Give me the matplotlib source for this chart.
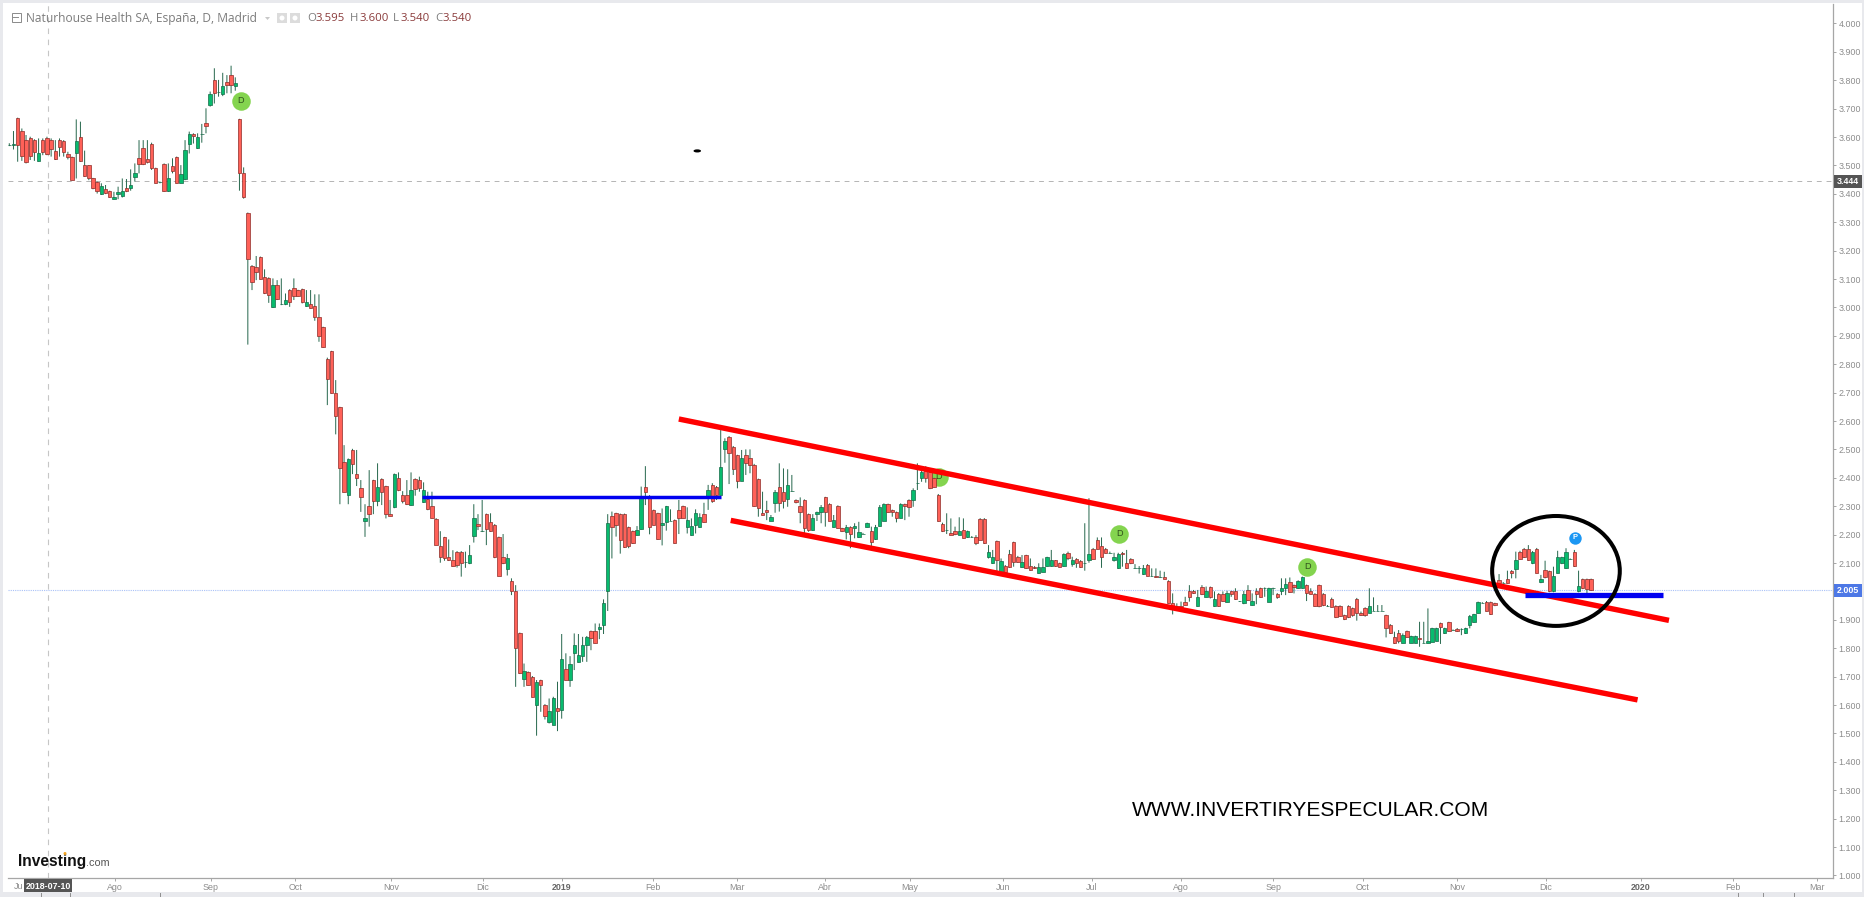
import numpy as np
import matplotlib
matplotlib.use("Agg")
import matplotlib.pyplot as plt
from matplotlib.patches import Rectangle, Ellipse, Polygon
from matplotlib.lines import Line2D

W, H = 1865, 897

# ---- Daily OHLC values, section by section ----
# Jul 2018 - Sep 2018
opens_a = [3.572,3.572,3.666,3.621,3.589,3.595,3.589,3.514,3.589,3.597,
3.589,3.549,3.589,3.585,3.540,3.528,3.545,3.599,3.500,3.500,
3.454,3.440,3.398,3.416,3.409,3.380,3.399,3.393,3.419,3.419,
3.460,3.525,3.560,3.521,3.577,3.490,3.440,3.505,3.410,3.499,
3.528,3.439,3.453,3.577,3.610,3.560,3.609,3.650,3.713,3.801,
3.760,3.750,3.795,3.819,3.778,3.662,3.474]
highs_a = [3.578,3.621,3.668,3.630,3.607,3.601,3.592,3.595,3.595,3.601,
3.595,3.589,3.595,3.589,3.548,3.531,3.662,3.654,3.552,3.501,
3.456,3.443,3.437,3.431,3.411,3.407,3.425,3.454,3.452,3.486,
3.507,3.589,3.589,3.589,3.580,3.492,3.443,3.507,3.507,3.525,
3.531,3.501,3.589,3.619,3.613,3.613,3.646,3.701,3.760,3.842,
3.801,3.826,3.818,3.851,3.810,3.664,3.493]
lows_a = [3.568,3.556,3.513,3.516,3.507,3.519,3.516,3.514,3.536,3.536,
3.531,3.519,3.531,3.531,3.521,3.448,3.454,3.513,3.460,3.448,
3.416,3.401,3.396,3.399,3.386,3.380,3.381,3.387,3.406,3.411,
3.443,3.472,3.501,3.507,3.484,3.437,3.437,3.407,3.407,3.472,
3.437,3.437,3.448,3.542,3.577,3.558,3.580,3.613,3.707,3.718,
3.742,3.744,3.754,3.754,3.763,3.411,3.383]
closes_a = [3.573,3.574,3.573,3.534,3.511,3.534,3.548,3.545,3.548,3.539,
3.559,3.521,3.565,3.548,3.528,3.450,3.585,3.514,3.464,3.454,
3.419,3.410,3.426,3.404,3.389,3.389,3.405,3.409,3.409,3.430,
3.472,3.505,3.505,3.511,3.490,3.439,3.440,3.410,3.454,3.482,
3.439,3.471,3.555,3.609,3.605,3.601,3.609,3.640,3.750,3.756,
3.760,3.779,3.784,3.784,3.789,3.474,3.387]

# Sep 2018 - Dic 2018
opens_b = [3.331,3.146,3.141,3.176,3.106,3.102,3.000,3.080,3.011,3.011,
3.061,3.069,3.060,3.064,3.005,3.011,3.006,2.965,2.930,2.820,
2.845,2.700,2.648,2.457,2.339,2.498,2.412,2.363,2.249,2.299,
2.391,2.320,2.395,2.370,2.272,2.296,2.401,2.340,2.340,2.305,
2.395,2.391,2.316,2.324,2.300,2.256,2.161,2.190,2.120,2.109,
2.140,2.140,2.102,2.100,2.194,2.236]
highs_b = [3.334,3.149,3.181,3.179,3.134,3.106,3.102,3.096,3.102,3.049,
3.064,3.102,3.062,3.066,3.061,3.061,3.046,3.046,2.932,2.823,
2.847,2.744,2.650,2.515,2.468,2.502,2.498,2.392,2.307,2.427,
2.393,2.451,2.398,2.372,2.322,2.415,2.419,2.353,2.392,2.419,
2.398,2.404,2.384,2.351,2.351,2.258,2.212,2.192,2.183,2.145,
2.142,2.142,2.140,2.163,2.307,2.272]
lows_b = [2.869,3.061,3.096,3.099,3.047,3.016,2.998,3.026,3.008,3.008,
3.002,3.026,3.038,3.014,3.002,2.997,2.953,2.879,2.858,2.656,
2.697,2.553,2.307,2.349,2.307,2.413,2.371,2.280,2.192,2.228,
2.272,2.300,2.304,2.257,2.265,2.293,2.353,2.310,2.304,2.302,
2.337,2.351,2.312,2.286,2.257,2.163,2.101,2.108,2.107,2.087,
2.084,2.052,2.083,2.096,2.172,2.216]
closes_b = [3.169,3.091,3.123,3.100,3.049,3.045,3.080,3.028,3.011,3.025,
3.018,3.040,3.040,3.018,3.018,2.999,2.965,2.900,2.859,2.749,
2.700,2.619,2.435,2.351,2.465,2.450,2.401,2.333,2.257,2.273,
2.320,2.366,2.351,2.271,2.266,2.412,2.356,2.317,2.306,2.356,
2.361,2.365,2.356,2.290,2.260,2.165,2.120,2.117,2.109,2.089,
2.094,2.100,2.102,2.127,2.260,2.229]

# Dic 2018 - Feb 2019
opens_c = [2.211,2.271,2.245,2.235,2.190,2.121,2.080,2.035,2.000,1.852,
1.693,1.716,1.700,1.601,1.687,1.601,1.539,1.530,1.588,1.582,
1.728,1.689,1.784,1.752,1.773,1.812,1.859,1.859,1.869,1.880,
2.000,2.267,2.275,2.271,2.271,2.226,2.211,2.200,2.221,2.369,
2.328,2.285,2.275,2.234,2.245,2.249,2.250,2.285,2.299,2.228,
2.200,2.235,2.227,2.271,2.329,2.373,2.369,2.340]
highs_c = [2.322,2.274,2.275,2.237,2.193,2.202,2.132,2.046,2.022,1.855,
1.746,1.718,1.702,1.688,1.689,1.603,1.623,1.629,1.682,1.850,
1.782,1.772,1.852,1.850,1.840,1.843,1.862,1.887,1.887,1.972,
2.272,2.281,2.277,2.274,2.274,2.228,2.214,2.230,2.369,2.441,
2.339,2.288,2.277,2.292,2.301,2.289,2.253,2.322,2.302,2.296,
2.257,2.289,2.275,2.312,2.375,2.381,2.371,2.568]
lows_c = [2.209,2.163,2.210,2.117,2.054,2.096,2.056,1.987,1.664,1.709,
1.664,1.669,1.627,1.492,1.576,1.549,1.535,1.530,1.508,1.552,
1.687,1.664,1.723,1.750,1.752,1.752,1.793,1.817,1.832,1.850,
1.931,2.116,2.193,2.133,2.153,2.152,2.167,2.197,2.218,2.304,
2.201,2.233,2.181,2.162,2.214,2.248,2.169,2.202,2.257,2.204,
2.197,2.204,2.224,2.242,2.287,2.312,2.322,2.339]
closes_c = [2.211,2.221,2.214,2.120,2.055,2.099,2.116,2.000,1.800,1.711,
1.718,1.671,1.629,1.680,1.671,1.562,1.580,1.623,1.580,1.761,
1.689,1.746,1.812,1.775,1.812,1.838,1.835,1.819,1.876,1.960,
2.240,2.226,2.235,2.182,2.155,2.161,2.170,2.216,2.328,2.351,
2.227,2.235,2.183,2.240,2.299,2.249,2.170,2.260,2.260,2.250,
2.229,2.275,2.261,2.245,2.356,2.317,2.341,2.437]

# Feb 2019 - Ago 2019
opens_d = [2.500,2.545,2.510,2.479,2.390,2.479,2.468,2.446,2.395,2.275,
2.285,2.249,2.310,2.366,2.351,2.324,2.352,2.322,2.301,2.322,
2.271,2.215,2.272,2.279,2.331,2.308,2.228,2.301,2.222,2.209,
2.227,2.222,2.190,2.203,2.228,2.211,2.183,2.229,2.249,2.306,
2.285,2.278,2.259,2.306,2.322,2.323,2.380,2.400,2.439,2.421,
2.398,2.340,2.239,2.215,2.204,2.211,2.200,2.215,2.190,2.191,
2.190,2.256,2.256,2.120,2.100,2.176,2.070,2.089,2.130,2.173,
2.120,2.086,2.127,2.088,2.087,2.066,2.070,2.088,2.089,2.109,
2.099,2.090,2.136,2.095,2.115,2.107,2.099,2.110,2.150,2.182,
2.161,2.150,2.136,2.109,2.081,2.136,2.099,2.115,2.081,2.081,
2.060,2.094]
highs_d = [2.539,2.547,2.512,2.481,2.498,2.500,2.500,2.449,2.397,2.351,
2.319,2.269,2.357,2.451,2.433,2.430,2.410,2.324,2.331,2.324,
2.274,2.272,2.281,2.304,2.333,2.310,2.269,2.303,2.224,2.234,
2.229,2.240,2.245,2.206,2.242,2.228,2.234,2.304,2.310,2.309,
2.288,2.281,2.310,2.309,2.324,2.363,2.451,2.428,2.441,2.424,
2.400,2.343,2.242,2.275,2.257,2.228,2.261,2.257,2.214,2.195,
2.198,2.258,2.258,2.163,2.146,2.179,2.116,2.093,2.146,2.175,
2.125,2.128,2.129,2.116,2.089,2.099,2.116,2.122,2.146,2.110,
2.101,2.134,2.140,2.122,2.117,2.110,2.240,2.328,2.153,2.190,
2.190,2.153,2.140,2.136,2.136,2.139,2.146,2.117,2.096,2.089,
2.093,2.096]
lows_d = [2.453,2.378,2.410,2.363,2.389,2.410,2.416,2.298,2.263,2.268,
2.251,2.248,2.277,2.281,2.292,2.298,2.351,2.310,2.240,2.204,
2.210,2.214,2.248,2.240,2.228,2.248,2.225,2.221,2.209,2.183,
2.152,2.187,2.188,2.201,2.225,2.160,2.181,2.228,2.248,2.277,
2.263,2.243,2.258,2.251,2.263,2.298,2.357,2.386,2.383,2.360,
2.366,2.246,2.209,2.202,2.198,2.198,2.198,2.187,2.188,2.189,
2.163,2.181,2.167,2.116,2.097,2.069,2.068,2.068,2.083,2.087,
2.101,2.083,2.079,2.073,2.079,2.063,2.068,2.087,2.087,2.087,
2.085,2.087,2.110,2.087,2.083,2.083,2.073,2.101,2.113,2.148,
2.083,2.134,2.133,2.105,2.079,2.087,2.080,2.096,2.080,2.063,
2.058,2.054]
closes_d = [2.531,2.486,2.430,2.390,2.471,2.451,2.446,2.301,2.295,2.270,
2.278,2.261,2.351,2.310,2.319,2.375,2.352,2.316,2.278,2.222,
2.215,2.257,2.279,2.296,2.279,2.249,2.250,2.222,2.211,2.227,
2.203,2.230,2.210,2.203,2.240,2.175,2.228,2.296,2.308,2.278,
2.278,2.259,2.306,2.301,2.298,2.357,2.380,2.419,2.400,2.363,
2.369,2.249,2.211,2.215,2.200,2.201,2.211,2.189,2.211,2.191,
2.171,2.182,2.169,2.137,2.120,2.110,2.106,2.070,2.086,2.105,
2.105,2.105,2.081,2.076,2.081,2.087,2.087,2.120,2.109,2.089,
2.087,2.130,2.116,2.109,2.100,2.086,2.099,2.130,2.115,2.150,
2.121,2.136,2.136,2.120,2.130,2.130,2.081,2.100,2.081,2.081,
2.081,2.055]

# Ago 2019 - Dic 2019
opens_e = [2.054,2.055,2.049,2.049,2.037,1.959,1.947,1.950,1.961,2.000,
2.000,1.948,2.015,1.981,2.014,1.947,1.992,1.992,1.963,2.000,
2.000,1.965,1.960,2.005,1.952,2.000,2.011,2.011,1.964,2.011,
1.992,2.000,2.011,2.032,2.021,2.011,2.011,2.021,2.000,1.992,
2.021,1.992,1.948,1.975,1.948,1.948,1.916,1.948,1.940,1.974,
1.925,1.941,1.925,1.932,1.932,1.932,1.916,1.883,1.838,1.852,
1.819,1.859,1.819,1.819,1.835,1.819,1.819,1.823,1.825,1.887,
1.852,1.891,1.864,1.869,1.867,1.852,1.880,1.891,1.923,1.960,
1.964,1.961,1.958,2.040,2.031,2.042,2.071,2.080,2.140,2.150,
2.150,2.099,2.150,2.032,2.076,2.071,2.000,2.066,2.099,2.081,
2.114,2.140,2.000,2.042,2.042,2.042]
highs_e = [2.081,2.081,2.073,2.069,2.039,1.993,1.958,1.964,1.981,2.022,
2.005,2.005,2.022,2.017,2.017,2.000,1.994,2.000,2.002,2.002,
2.011,1.966,2.002,2.022,1.993,2.011,2.013,2.014,2.013,2.013,
1.994,2.046,2.046,2.049,2.024,2.039,2.052,2.024,2.011,1.994,
2.024,1.994,1.952,1.978,1.951,1.951,1.918,1.951,1.943,1.977,
1.929,1.944,2.011,1.979,1.952,1.952,1.918,1.885,1.858,1.864,
1.852,1.862,1.844,1.844,1.893,1.893,1.940,1.872,1.872,1.890,
1.872,1.893,1.866,1.871,1.870,1.872,1.917,1.921,1.964,1.962,
1.966,1.964,1.960,2.061,2.033,2.073,2.075,2.140,2.143,2.153,
2.163,2.142,2.153,2.058,2.108,2.073,2.087,2.143,2.122,2.152,
2.116,2.146,2.073,2.045,2.045,2.045]
lows_e = [2.052,2.048,2.047,2.044,1.958,1.919,1.944,1.943,1.951,1.964,
1.991,1.947,1.987,1.979,1.975,1.946,1.946,1.964,1.961,1.981,
1.970,1.964,1.955,1.967,1.950,1.955,1.979,1.981,1.963,1.987,
1.974,1.987,1.987,1.995,1.993,2.010,2.010,1.966,1.990,1.946,
1.944,1.948,1.946,1.944,1.906,1.911,1.899,1.906,1.911,1.897,
1.914,1.911,1.923,1.931,1.930,1.931,1.838,1.850,1.815,1.817,
1.817,1.838,1.818,1.818,1.805,1.817,1.817,1.822,1.824,1.815,
1.850,1.858,1.862,1.857,1.846,1.850,1.870,1.890,1.922,1.958,
1.930,1.917,1.948,2.028,2.028,2.028,2.046,2.046,2.113,2.118,
2.108,2.096,2.064,2.029,2.046,1.997,1.997,2.064,2.096,2.079,
2.112,2.086,1.997,2.008,1.993,2.002]
closes_e = [2.054,2.049,2.049,2.045,1.960,1.949,1.947,1.946,1.953,1.981,
1.993,1.979,1.992,2.001,1.981,1.972,1.948,1.967,1.994,1.992,
1.972,1.965,1.992,1.970,1.965,1.992,1.981,2.011,2.011,2.011,
1.981,2.011,2.026,1.999,2.014,2.037,2.049,1.993,1.992,1.950,
1.950,1.951,1.948,1.946,1.909,1.913,1.902,1.909,1.917,1.925,
1.918,1.917,1.950,1.932,1.932,1.932,1.870,1.852,1.819,1.826,
1.846,1.840,1.842,1.842,1.831,1.819,1.827,1.870,1.870,1.876,
1.870,1.859,1.864,1.859,1.867,1.870,1.914,1.919,1.961,1.960,
1.932,1.919,1.951,2.031,2.031,2.031,2.066,2.110,2.115,2.120,
2.110,2.140,2.066,2.042,2.049,2.000,2.055,2.120,2.120,2.140,
2.114,2.088,2.020,2.011,2.009,2.005]

# Axis labels and levels
price_ticks = [1.0,1.1,1.2,1.3,1.4,1.5,1.6,1.7,1.8,1.9,2.0,2.1,2.2,2.3,2.4,2.5,2.6,2.7,2.8,2.9,
               3.0,3.1,3.2,3.3,3.4,3.5,3.6,3.7,3.8,3.9,4.0]
month_labels = ["Ago","Sep","Oct","Nov","Dic","2019","Feb","Mar","Abr","May","Jun","Jul",
                "Ago","Sep","Oct","Nov","Dic","2020","Feb","Mar"]
month_bars = [25.3,48.2,68.3,91.2,113.2,132,153.8,173.9,194.9,215.2,237.4,258.7,
              280,302,323.5,346,367.2,389.9,412,432]
last_price = 2.005
crosshair_price = 3.444
crosshair_bar = 9.3
crosshair_date = "2018-07-10"

# Drawing annotations (bar, price)
channel_upper_bar = [160.0, 396.6]; channel_upper_price = [2.607, 1.898]
channel_lower_bar = [172.4, 389.1]; channel_lower_price = [2.250, 1.618]
support_a_bar = [98.7, 170.0]; support_a_price = [2.333, 2.333]
support_b_bar = [362.2, 395.1]; support_b_price = [1.989, 1.989]
event_bars = [55.3, 222.1, 265.2, 310.2]
event_prices = [3.727, 2.404, 2.203, 2.087]
pivot_bar = [374.1]; pivot_price = [2.189]

opens = np.array(opens_a + opens_b + opens_c + opens_d + opens_e)
highs = np.array(highs_a + highs_b + highs_c + highs_d + highs_e)
lows = np.array(lows_a + lows_b + lows_c + lows_d + lows_e)
closes = np.array(closes_a + closes_b + closes_c + closes_d + closes_e)
bars = np.arange(len(opens))

FONT = "Liberation Sans"
GREY = "#8c8c8c"

fig = plt.figure(figsize=(W / 100, H / 100), dpi=100, facecolor="#e8e9ed")


def fx(x):
    return x / W


def fy(y):
    return 1 - y / H


def frect(x0, y0, x1, y1, **kw):
    p = Rectangle((fx(x0), fy(y1)), (x1 - x0) / W, (y1 - y0) / H, transform=fig.transFigure, **kw)
    fig.add_artist(p)
    return p


frect(3, 3, 1862, 892, facecolor="white", edgecolor="none", zorder=-5)

ax = fig.add_axes([fx(8), fy(878), (1833 - 8) / W, (878 - 4) / H], facecolor="white")
ax.set_xlim(-0.31, 435.8)
ax.set_ylim(4 - (878 - 23.4) / 284, 4 + (23.4 - 4) / 284)

for s in ("left", "top"):
    ax.spines[s].set_visible(False)
for s in ("right", "bottom"):
    ax.spines[s].set_color("#a6a6a6")
    ax.spines[s].set_linewidth(0.9)

ax.yaxis.tick_right()
ax.set_yticks(price_ticks)
ax.set_yticklabels([f"{v:.3f}" for v in price_ticks], fontname=FONT, fontsize=6.4, color=GREY)
ax.set_xticks(month_bars)
ax.set_xticklabels(month_labels, fontname=FONT, fontsize=6.4, color=GREY)
for lab, txt in zip(ax.get_xticklabels(), month_labels):
    if txt in ("2019", "2020"):
        lab.set_fontweight("bold")
        lab.set_color("#666666")
ax.tick_params(axis="y", length=2.2, width=0.7, color="#a6a6a6", pad=1.6)
ax.tick_params(axis="x", length=2.2, width=0.7, color="#a6a6a6", pad=1.4)

# Reference lines
ax.axhline(crosshair_price, color="#b4b4b4", lw=0.7, ls=(0, (5, 5)), zorder=1)
ax.axvline(crosshair_bar, color="#c6c6c6", lw=0.8, ls=(0, (5, 5)), zorder=1)
ax.axhline(last_price, color="#a9c1f7", lw=0.8, ls=(0, (1, 1)), zorder=1)

# Event markers sit beneath the candles and channel lines
ax.scatter(event_bars, event_prices, s=178, color="#84d44f", zorder=2, linewidths=0)
for b, p in zip(event_bars, event_prices):
    ax.text(b, p, "D", ha="center", va="center", fontname=FONT, fontsize=6.6, color="#2f4f1c", zorder=2.1)
ax.scatter(pivot_bar, pivot_price, s=80, color="#1c97f3", zorder=2, linewidths=0)
ax.text(pivot_bar[0], pivot_price[0], "P", ha="center", va="center", fontname=FONT, fontsize=5.4,
        fontweight="bold", color="white", zorder=2.1)

# Candles
wicks = ax.vlines(bars, lows, highs, color="#2a6a50", lw=0.72, zorder=3)
wicks.set_snap(False)
up = closes >= opens
ax.bar(bars[up], (closes - opens)[up], bottom=opens[up], width=0.82, color="#08bb6e",
       edgecolor="#136a47", linewidth=0.5, zorder=4)
ax.bar(bars[~up], (closes - opens)[~up], bottom=opens[~up], width=0.82, color="#ff6158",
       edgecolor="#8e2b27", linewidth=0.5, zorder=4)

# Hand-drawn annotations
ax.plot(channel_upper_bar, channel_upper_price, color="#ff0000", lw=3.9, solid_capstyle="butt", zorder=6)
ax.plot(channel_lower_bar, channel_lower_price, color="#ff0000", lw=3.9, solid_capstyle="butt", zorder=6)
ax.plot(support_a_bar, support_a_price, color="#0000f0", lw=2.5, solid_capstyle="butt", zorder=6)
ax.plot(support_b_bar, support_b_price, color="#0000f0", lw=3.8, solid_capstyle="butt", zorder=6)
ax.add_patch(Ellipse((369.6, 2.072), 30.5, 0.387, fill=False, edgecolor="black", lw=2.9, zorder=7))
ax.add_patch(Ellipse((164.4, 3.551), 1.8, 0.011, facecolor="black", edgecolor="none", zorder=7))

# Price and date flags
frect(1834, 175, 1862, 188, facecolor="#555555", edgecolor="none", zorder=8)
fig.text(fx(1848), fy(181.6), f"{crosshair_price:.3f}", ha="center", va="center", fontname=FONT,
         fontsize=6.4, fontweight="bold", color="white", zorder=9)
frect(1834, 584, 1862, 597, facecolor="#4d78e6", edgecolor="none", zorder=8)
fig.text(fx(1848), fy(590.8), f"{last_price:.3f}", ha="center", va="center", fontname=FONT,
         fontsize=6.4, fontweight="bold", color="white", zorder=9)
frect(24, 879, 72, 892, facecolor="#555555", edgecolor="none", zorder=8)
fig.text(fx(48), fy(886), crosshair_date, ha="center", va="center", fontname=FONT,
         fontsize=6.4, fontweight="bold", color="white", zorder=9)
# The first month label is cut off by the date flag, as in the reference
fig.text(fx(23.5), fy(886), "Ju", ha="right", va="center", fontname=FONT, fontsize=6.4, color=GREY, zorder=7)

# Header
frect(11.5, 13, 20.5, 22, facecolor="white", edgecolor="#8a8a8a", lw=0.7, zorder=8)
fig.add_artist(Line2D([fx(13.5), fx(18.5)], [fy(17.5), fy(17.5)], color="#8a8a8a", lw=0.7,
                      transform=fig.transFigure, zorder=9))
fig.text(fx(26), fy(18.5), "Naturhouse Health SA, España, D, Madrid", ha="left", va="center",
         fontname="Open Sans", fontsize=8.65, color="#7c7c7c", zorder=9)
fig.add_artist(Polygon([(fx(265), fy(17)), (fx(270), fy(17)), (fx(267.5), fy(20))], closed=True,
                       facecolor="#c8c8c8", edgecolor="none", transform=fig.transFigure, zorder=9))
frect(277, 13, 287, 23, facecolor="#dcdcdc", edgecolor="none", zorder=8)
frect(290, 13, 300, 23, facecolor="#dcdcdc", edgecolor="none", zorder=8)
for cx in (282, 295):
    fig.add_artist(Ellipse((fx(cx), fy(18)), 5 / W, 5 / H, facecolor="white", edgecolor="none",
                           transform=fig.transFigure, zorder=9))
ohlc_labels = ["O", "H", "L", "C"]
ohlc_values = ["3.595", "3.600", "3.540", "3.540"]
for lab, val, xl, xv in zip(ohlc_labels, ohlc_values, [307, 350, 393, 435], [316, 359, 401, 443]):
    fig.text(fx(xl), fy(18.5), lab, ha="left", va="center", fontname="Open Sans", fontsize=8.2,
             color="#7c7c7c", zorder=9)
    fig.text(fx(xv), fy(18.5), val, ha="left", va="center", fontname="Open Sans", fontsize=8.2,
             color="#8a3a3a", zorder=9)

# Logo and watermark
fig.text(fx(18), fy(861), "Investing", ha="left", va="center", fontname=FONT, fontsize=11.2,
         fontweight="bold", color="#111111", zorder=9)
fig.text(fx(86.5), fy(862.5), ".com", ha="left", va="center", fontname=FONT, fontsize=7.8,
         color="#555555", zorder=9)
fig.add_artist(Ellipse((fx(65), fy(853.5)), 3 / W, 3 / H, facecolor="#f5a623", edgecolor="none",
                       transform=fig.transFigure, zorder=10))
fig.text(fx(1132), fy(810), "WWW.INVERTIRYESPECULAR.COM", ha="left", va="center", fontname=FONT,
         fontsize=15.15, color="black", zorder=9)

# Toolbar dividers along the bottom strip
for x in (41, 70, 160, 1738, 1763, 1794):
    fig.add_artist(Line2D([fx(x), fx(x)], [fy(893), fy(897)], color="#8f8f8f", lw=0.7,
                          transform=fig.transFigure, zorder=9))

fig.savefig("out.png", dpi=100, facecolor=fig.get_facecolor())
